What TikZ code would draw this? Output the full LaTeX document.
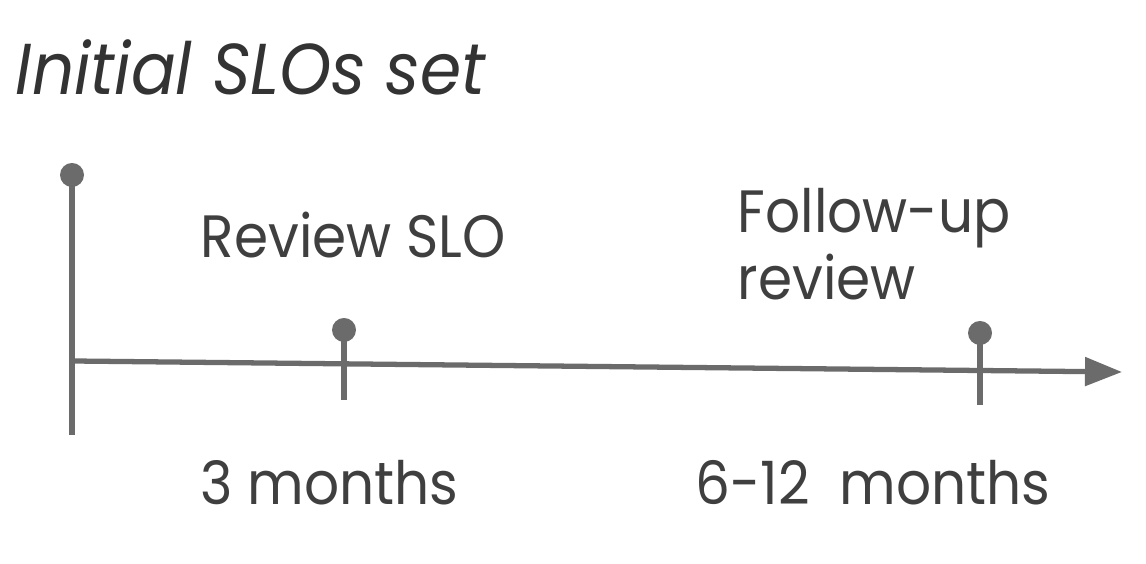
\documentclass[tikz,border=0pt]{standalone}
\usepackage{fontspec}
\setmainfont{Poppins}[FakeStretch=0.92]
\usetikzlibrary{arrows.meta}
\definecolor{linegray}{HTML}{6B6B6B}
\definecolor{textgray}{HTML}{3F3F3F}
\tikzset{
  axisline/.style={line width=1.5pt,linegray},
  stemdot/.style={fill=linegray,draw=none},
  lbl/.style={anchor=base west,inner sep=0pt,textgray,font=\fontsize{17}{19.3}\selectfont}
}
\begin{document}
\begin{tikzpicture}
\useasboundingbox (0,0) rectangle (11.46,5.64);

% start of the timeline
\coordinate (origin) at (0.72,2.03);
\coordinate (origintop) at (0.72,3.89);
\coordinate (originbot) at (0.72,1.29);
\coordinate (axisend) at (11.22,1.92);
% review points
\coordinate (revtop) at (3.44,2.34);
\coordinate (revbot) at (3.44,1.64);
\coordinate (futop) at (9.80,2.31);
\coordinate (fubot) at (9.80,1.59);

\draw[axisline] (origintop) -- (originbot);
\draw[axisline][-{Triangle[length=0.37cm,width=0.28cm]}] (origin) -- (axisend);
\draw[axisline] (revtop) -- (revbot);
\draw[axisline] (futop) -- (fubot);
\fill[stemdot] (origintop) circle[radius=.12];
\fill[stemdot] (revtop) circle[radius=.12];
\fill[stemdot] (futop) circle[radius=.12];

% texts
\node[lbl,font=\itshape\fontsize{20.5}{24}\selectfont,text=black!80] (title) at (0.15,4.69) {Initial SLOs set};
\node[lbl] (reviewslo) at (2.00,3.06) {Review SLO};
\node[lbl,align=left] (followup) at (7.37,2.64) {Follow-up\\review};
\node[lbl] (threemonths) at (2.00,0.59) {3 months};
\node[lbl] (sixmonths) at (6.95,0.59) {6-12\ \ months};
\end{tikzpicture}
\end{document}
